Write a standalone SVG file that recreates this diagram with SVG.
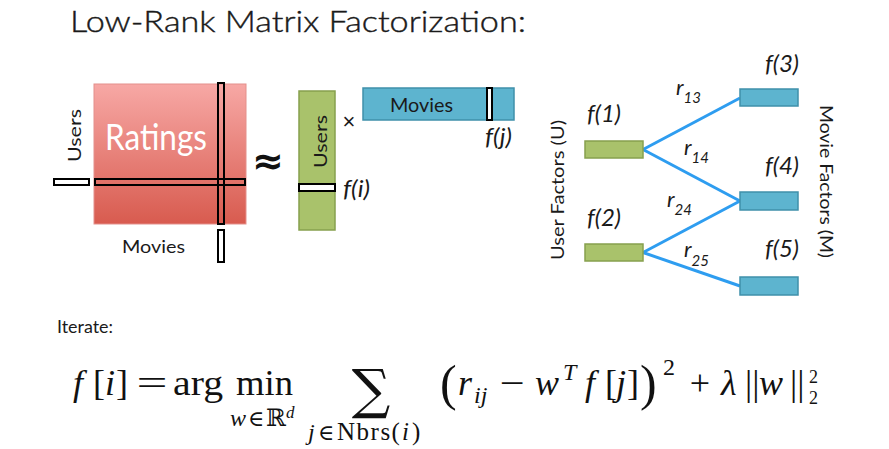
<svg xmlns="http://www.w3.org/2000/svg" width="889" height="449" viewBox="0 0 889 449">
<defs>
<linearGradient id="redGrad" x1="0" y1="0" x2="0" y2="1">
<stop offset="0" stop-color="#f7a8a5"/>
<stop offset="1" stop-color="#d85b4f"/>
</linearGradient>
<style>
.sans{font-family:"Lato","Open Sans","Liberation Sans",sans-serif;fill:#1a1a1a}
.ital{font-family:"Lato","Open Sans","Liberation Sans",sans-serif;font-style:italic;fill:#1a1a1a}
.math{font-family:"Liberation Serif","DejaVu Serif",serif;font-style:normal;font-weight:normal;fill:#111}
.mi{font-family:"Liberation Serif","DejaVu Serif",serif;font-style:italic;font-weight:normal;fill:#111}
.sym{font-family:"DejaVu Serif","Liberation Serif",serif;font-style:normal;font-weight:normal;fill:#111}
.sel{fill:none;stroke:#000;stroke-width:2}
.selw{fill:#fff;stroke:#000;stroke-width:2}
.green{fill:#a9c26b;stroke:#87a04e;stroke-width:1.5}
.blue{fill:#5db4cf;stroke:#3f90aa;stroke-width:1.5}
.edge{stroke:#2e9df0;stroke-width:3;fill:none}
</style>
</defs>
<rect width="889" height="449" fill="#fff"/>

<text class="sans" x="70" y="32" font-size="30" font-weight="300" textLength="456" lengthAdjust="spacingAndGlyphs" stroke="#1a1a1a" stroke-width="0.4">Low-Rank Matrix Factorization:</text>

<g id="ratings">
<rect x="94" y="84" width="152" height="140" fill="url(#redGrad)" stroke="#e4908b" stroke-width="1"/>
<text x="105" y="150" font-family="Lato,'Open Sans','Liberation Sans',sans-serif" font-size="37" fill="#fff" textLength="102" lengthAdjust="spacingAndGlyphs">Ratings</text>
<rect class="sel" x="95" y="179" width="150" height="6"/>
<rect class="sel" x="218" y="83" width="6" height="141"/>
<rect class="selw" x="54" y="179" width="35" height="6"/>
<rect class="selw" x="218" y="230" width="6" height="32"/>
<text class="sans" transform="translate(81,135.5) rotate(-90)" x="0" y="0" font-size="18" text-anchor="middle" textLength="53" lengthAdjust="spacingAndGlyphs">Users</text>
<text class="sans" x="122" y="253" font-size="18" textLength="63" lengthAdjust="spacingAndGlyphs">Movies</text>
</g>

<text id="approx" x="268" y="174" font-family="'DejaVu Sans',sans-serif" font-weight="bold" font-size="38" text-anchor="middle" fill="#111">≈</text>

<g id="userMatrix">
<rect class="green" x="299" y="91" width="36" height="139"/>
<rect class="selw" x="299" y="184" width="36" height="7"/>
<text class="sans" transform="translate(327,141.5) rotate(-90)" x="0" y="0" font-size="18" text-anchor="middle" textLength="53" lengthAdjust="spacingAndGlyphs">Users</text>
<text class="ital" x="343" y="197" font-size="24" textLength="27" lengthAdjust="spacingAndGlyphs">f(i)</text>
</g>

<text id="times" x="349" y="129" font-family="'Liberation Sans',sans-serif" font-size="22" fill="#1a1a1a" text-anchor="middle">×</text>

<g id="movieMatrix">
<rect class="blue" x="363" y="88" width="151" height="32"/>
<rect class="selw" x="487" y="88" width="5" height="32"/>
<text class="sans" x="390" y="112" font-size="19" textLength="63" lengthAdjust="spacingAndGlyphs">Movies</text>
<text class="ital" x="485" y="145" font-size="24" textLength="27" lengthAdjust="spacingAndGlyphs">f(j)</text>
</g>

<g id="connectors">
<line class="edge" x1="643" y1="149.5" x2="740" y2="98"/>
<line class="edge" x1="643" y1="149.5" x2="740" y2="201"/>
<line class="edge" x1="643" y1="252.5" x2="740" y2="201"/>
<line class="edge" x1="643" y1="252.5" x2="740" y2="286"/>
<text class="ital" x="676" y="95" font-size="22">r<tspan font-size="15" dy="8">13</tspan></text>
<text class="ital" x="684" y="155" font-size="22">r<tspan font-size="15" dy="8">14</tspan></text>
<text class="ital" x="667" y="207" font-size="22">r<tspan font-size="15" dy="8">24</tspan></text>
<text class="ital" x="684" y="257" font-size="22">r<tspan font-size="15" dy="9">25</tspan></text>
</g>

<g id="f1">
<rect class="green" x="585" y="141" width="58" height="17"/>
<text class="ital" x="587" y="122" font-size="24">f(1)</text>
</g>
<g id="f2">
<rect class="green" x="585" y="244" width="58" height="17"/>
<text class="ital" x="587" y="226" font-size="24">f(2)</text>
</g>
<g id="f3">
<rect class="blue" x="740" y="89" width="58" height="17"/>
<text class="ital" x="765" y="72" font-size="24">f(3)</text>
</g>
<g id="f4">
<rect class="blue" x="740" y="192" width="58" height="18"/>
<text class="ital" x="765" y="174" font-size="24">f(4)</text>
</g>
<g id="f5">
<rect class="blue" x="740" y="277" width="58" height="18"/>
<text class="ital" x="765" y="257" font-size="24">f(5)</text>
</g>

<text class="sans" transform="translate(564,190) rotate(-90)" x="0" y="0" font-size="18" text-anchor="middle" textLength="140" lengthAdjust="spacingAndGlyphs">User Factors (U)</text>
<text class="sans" transform="translate(820,181.5) rotate(90)" x="0" y="0" font-size="18" text-anchor="middle" textLength="153" lengthAdjust="spacingAndGlyphs">Movie Factors (M)</text>

<text class="sans" x="57" y="333" font-size="18" textLength="56" lengthAdjust="spacingAndGlyphs">Iterate:</text>

<g id="formula">
<text class="mi" x="73" y="395" font-size="36">f<tspan class="math" x="93">[</tspan><tspan x="105">i</tspan><tspan class="math" x="116">]</tspan></text>
<text class="math" x="152" y="395" font-size="36" text-anchor="middle" textLength="31" lengthAdjust="spacingAndGlyphs">=</text>
<text class="math" x="173" y="395" font-size="36" textLength="50" lengthAdjust="spacingAndGlyphs">arg</text>
<text class="math" x="236" y="395" font-size="36" textLength="57" lengthAdjust="spacingAndGlyphs">min</text>
<text class="mi" x="230" y="426" font-size="24">w<tspan class="sym" x="248" font-size="22">∈</tspan><tspan class="sym" x="266">ℝ</tspan><tspan x="286" dy="-8" font-size="17">d</tspan></text>
<text class="sym" x="371" y="408" font-size="54" text-anchor="middle">∑</text>
<text class="mi" x="308" y="440" font-size="24">j<tspan class="sym" x="318" font-size="22">∈</tspan><tspan class="math" x="337" font-size="25" letter-spacing="1.5">Nbrs(</tspan><tspan x="402" font-size="25">i</tspan><tspan class="math" x="412" font-size="25">)</tspan></text>
<text class="math" x="440" y="400" font-size="50">(</text>
<text class="mi" x="458" y="395" font-size="36">r<tspan x="474" dy="8" font-size="24">ij</tspan></text>
<text class="math" x="512" y="395" font-size="36" text-anchor="middle" textLength="25" lengthAdjust="spacingAndGlyphs">−</text>
<text class="mi" x="535" y="395" font-size="36">w<tspan x="563" dy="-15" font-size="24">T</tspan></text>
<text class="mi" x="585" y="395" font-size="36">f<tspan class="math" x="605">[</tspan><tspan x="616">j</tspan><tspan class="math" x="627">]</tspan></text>
<text class="math" x="640" y="400" font-size="50">)</text>
<text class="math" x="663" y="375" font-size="24">2</text>
<text class="math" x="700" y="395" font-size="36" text-anchor="middle">+</text>
<text class="mi" x="721" y="395" font-size="36">λ<tspan class="math" x="745">||</tspan><tspan x="759">w</tspan><tspan class="math" x="790">||</tspan></text>
<text class="math" x="809" y="383" font-size="18">2</text>
<text class="math" x="809" y="404" font-size="18">2</text>
</g>
</svg>
